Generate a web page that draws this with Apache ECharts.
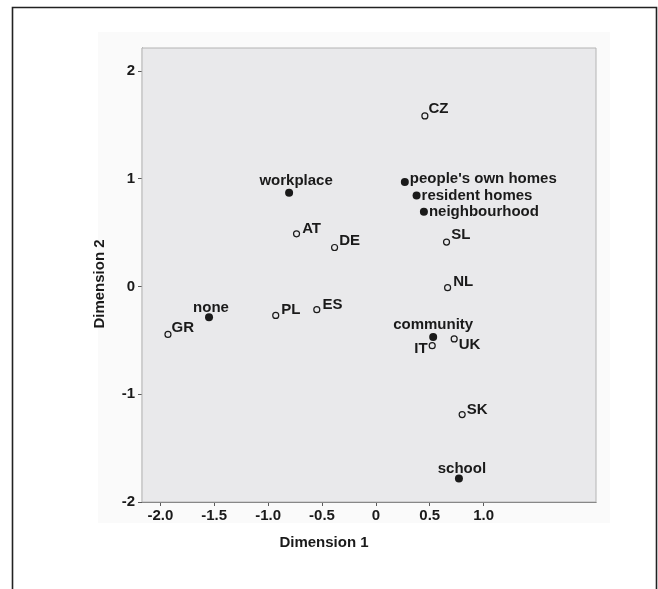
<!DOCTYPE html>
<html>
<head>
<meta charset="utf-8">
<script src="https://cdn.jsdelivr.net/npm/echarts@6.0.0/dist/echarts.min.js"></script>
<style>
	html, body { margin: 0; padding: 0; background: #ffffff; }
	#chart { width: 658px; height: 589px; }
</style>
</head>
<body>
<div id="chart"></div>
<script>
// countries (open circles)
const countryNames = ["CZ", "AT", "DE", "SL", "NL", "GR", "PL", "ES", "IT", "UK", "SK"]
const countryX = [0.455, -0.736, -0.383, 0.656, 0.666, -1.929, -0.929, -0.548, 0.523, 0.727, 0.801]
const countryY = [1.582, 0.488, 0.361, 0.411, -0.012, -0.445, -0.269, -0.216, -0.55, -0.487, -1.189]

// settings (filled dots)
const settingNames = ["workplace", "people's own homes", "resident homes", "neighbourhood", "none", "community", "school"]
const settingX = [-0.805, 0.269, 0.378, 0.446, -1.548, 0.532, 0.771]
const settingY = [0.868, 0.968, 0.843, 0.692, -0.287, -0.469, -1.782]

// tick labels
const xTicks = [-2, -1.5, -1, -0.5, 0, 0.5, 1]
const yTicks = [-2, -1, 0, 1, 2]

const font = "'Liberation Sans', Arial, sans-serif"
const ink = "#1a1a1a"

// where each label sits relative to its marker
const labelPlace = {
	CZ: ["right", [0, -7]],
	AT: ["right", [2, -5]],
	DE: ["right", [1, -7]],
	SL: ["right", [1, -7]],
	NL: ["right", [2, -6]],
	GR: ["right", [0, -7]],
	PL: ["right", [2, -6]],
	ES: ["right", [2, -5]],
	IT: ["left", [-1, 3]],
	UK: ["right", [1, 6]],
	SK: ["right", [1, -5]],
	workplace: ["inside", [7, -12]],
	"people's own homes": ["right", [1, -3]],
	"resident homes": ["right", [1, 0]],
	neighbourhood: ["right", [1, 0]],
	none: ["inside", [2, -10]],
	community: ["inside", [0, -12]],
	school: ["inside", [3, -10]]
}

const toPoints = (names, xs, ys) =>
	names.map((n, i) => {
		const p = labelPlace[n]
		return {
			name: n,
			value: [xs[i], ys[i]],
			label: { position: p[0], offset: p[1] }
		}
	})

const labelStyle = {
	show: true,
	formatter: "{b}",
	distance: 0,
	fontFamily: font,
	fontWeight: "bold",
	fontSize: 15,
	color: ink
}

const chart = echarts.init(document.getElementById("chart"), null, { renderer: "canvas" })

const option = {
	animation: false,
	backgroundColor: "#ffffff",
	graphic: [
		{
			type: "rect",
			z: -10,
			silent: true,
			shape: { x: 98, y: 32, width: 512, height: 491 },
			style: { fill: "#fafafa" }
		},
		{
			type: "rect",
			z: -10,
			silent: true,
			shape: { x: 12.5, y: 7.5, width: 644, height: 600 },
			style: { fill: "none", stroke: "#222", lineWidth: 1.6 }
		}
	],
	grid: {
		z: 1,
		left: 142,
		top: 48,
		right: 62,
		bottom: 87,
		show: true,
		backgroundColor: "#e9e9eb",
		borderColor: "#b4b4b4",
		borderWidth: 1
	},
	xAxis: {
		type: "value",
		min: -2.17,
		max: 2.043,
		name: "Dimension 1",
		nameLocation: "middle",
		nameGap: 33,
		nameTextStyle: {
			fontFamily: font,
			fontWeight: "bold",
			fontSize: 15,
			color: ink,
			padding: [0, 90, 0, 0]
		},
		axisLine: { show: true, onZero: false, lineStyle: { color: "#5a5a5a", width: 1.2 } },
		axisTick: { show: true, length: 4, customValues: xTicks, lineStyle: { color: "#5a5a5a" } },
		axisLabel: {
			customValues: xTicks,
			margin: 6,
			fontFamily: font,
			fontWeight: "bold",
			fontSize: 15,
			color: ink,
			formatter: v => (v === 0 ? "0" : v.toFixed(1))
		},
		splitLine: { show: false }
	},
	yAxis: {
		type: "value",
		min: -2,
		max: 2.212,
		name: "Dimension 2",
		nameLocation: "middle",
		nameGap: 35,
		nameTextStyle: {
			fontFamily: font,
			fontWeight: "bold",
			fontSize: 15,
			color: ink,
			padding: [0, 18, 0, 0]
		},
		axisLine: { show: true, onZero: false, lineStyle: { color: "#5a5a5a", width: 1.2 } },
		axisTick: { show: true, length: 4, customValues: yTicks, lineStyle: { color: "#5a5a5a" } },
		axisLabel: {
			customValues: yTicks,
			margin: 7,
			fontFamily: font,
			fontWeight: "bold",
			fontSize: 15,
			color: ink,
			formatter: v => String(v)
		},
		splitLine: { show: false }
	},
	series: [
		{
			name: "countries",
			type: "scatter",
			symbol: "circle",
			symbolSize: 6,
			itemStyle: { color: "#e9e9eb", borderColor: ink, borderWidth: 1.2, opacity: 1 },
			label: labelStyle,
			emphasis: { disabled: true },
			data: toPoints(countryNames, countryX, countryY)
		},
		{
			name: "settings",
			type: "scatter",
			symbol: "circle",
			symbolSize: 8,
			itemStyle: { color: ink, opacity: 1 },
			label: labelStyle,
			emphasis: { disabled: true },
			data: toPoints(settingNames, settingX, settingY)
		}
	]
}

chart.setOption(option)
</script>
</body>
</html>
